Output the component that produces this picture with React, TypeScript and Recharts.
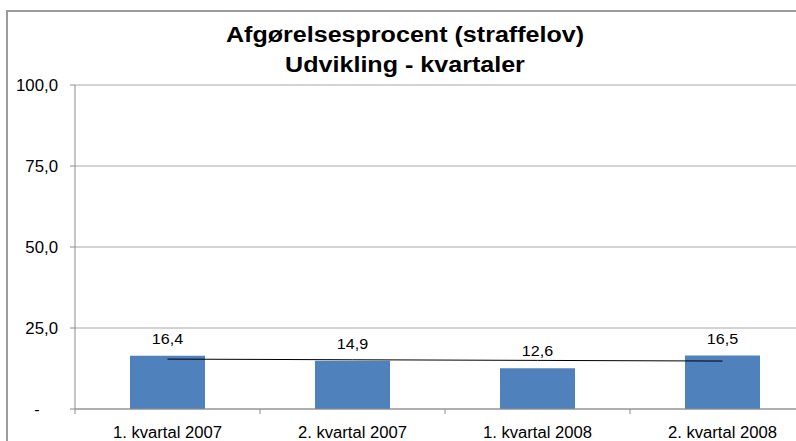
import { ComposedChart, Bar, Line, XAxis, YAxis, CartesianGrid, LabelList } from 'recharts';

const quarters = ['1. kvartal 2007', '2. kvartal 2007', '1. kvartal 2008', '2. kvartal 2008'];
const rates = [16.4, 14.9, 12.6, 16.5];
// linear trendline
const trend = [15.4, 15.2, 15.0, 14.8];
const yTicks = [0, 25, 50, 75, 100];

const data = quarters.map((q, i) => ({ quarter: q, rate: rates[i], trend: trend[i] }));

const fmt = (v: number) => v.toFixed(1).replace('.', ',');
const FONT = '"Liberation Sans", Arial, sans-serif';

function YTick({ x, y, payload }: any) {
  const v = payload.value as number;
  if (v === 0) {
    return <text x={37} y={y} dy={6} textAnchor="middle" fontSize={16} fontFamily={FONT} fill="#000">-</text>;
  }
  return (
    <text transform={`translate(${x} ${y + 6}) scale(1.05 1)`} textAnchor="end" fontSize={16} fontFamily={FONT} fill="#000">
      {fmt(v)}
    </text>
  );
}

function XTick({ x, y, payload }: any) {
  const half = payload.offset ?? 92.5;
  return (
    <g>
      <line x1={x - half} y1={y} x2={x - half} y2={y + 5} stroke="#8c8c8c" />
      <text transform={`translate(${x} ${y + 29}) scale(1.04 1)`} textAnchor="middle" fontSize={16} fontFamily={FONT} fill="#000">
        {payload.value}
      </text>
    </g>
  );
}

function BarValue({ x, y, width, value }: any) {
  return (
    <text transform={`translate(${x + width / 2} ${y - 12}) scale(1.15 1)`} textAnchor="middle" fontSize={14} fontFamily={FONT} fill="#000">
      {fmt(Number(value))}
    </text>
  );
}

export default function App() {
  return (
    <div style={{ position: 'fixed', left: 0, top: 0, width: 796, height: 441, overflow: 'hidden', background: '#fff', fontFamily: FONT }}>
      <div style={{ position: 'absolute', left: 6, top: 10, width: 900, height: 600, border: '2px solid #9c9c9c' }} />
      <div style={{ position: 'absolute', left: 0, width: 810, top: 20, textAlign: 'center', fontWeight: 'bold', fontSize: 22, lineHeight: '30px', color: '#000', transform: 'scaleX(1.14)', transformOrigin: '405px 0' }}>
        Afgørelsesprocent (straffelov)<br />Udvikling - kvartaler
      </div>
      <div style={{ position: 'absolute', left: 0, top: 0 }}>
        <ComposedChart width={830} height={460} data={data} margin={{ top: 85, right: 15, left: 0, bottom: 21 }}>
          <CartesianGrid vertical={false} stroke="#a8a8a8" />
          <XAxis dataKey="quarter" height={30} tick={<XTick />} tickLine={false} tickSize={0} tickMargin={0} stroke="#8c8c8c" interval={0} />
          <YAxis width={75} domain={[0, 100]} ticks={yTicks} tick={<YTick />} tickSize={5} tickMargin={12} stroke="#8c8c8c" />
          <Bar dataKey="rate" fill="#4F81BD" barSize={75} isAnimationActive={false}>
            <LabelList dataKey="rate" content={<BarValue />} />
          </Bar>
          <Line dataKey="trend" type="linear" stroke="#000" strokeWidth={1} dot={false} isAnimationActive={false} />
        </ComposedChart>
      </div>
    </div>
  );
}
